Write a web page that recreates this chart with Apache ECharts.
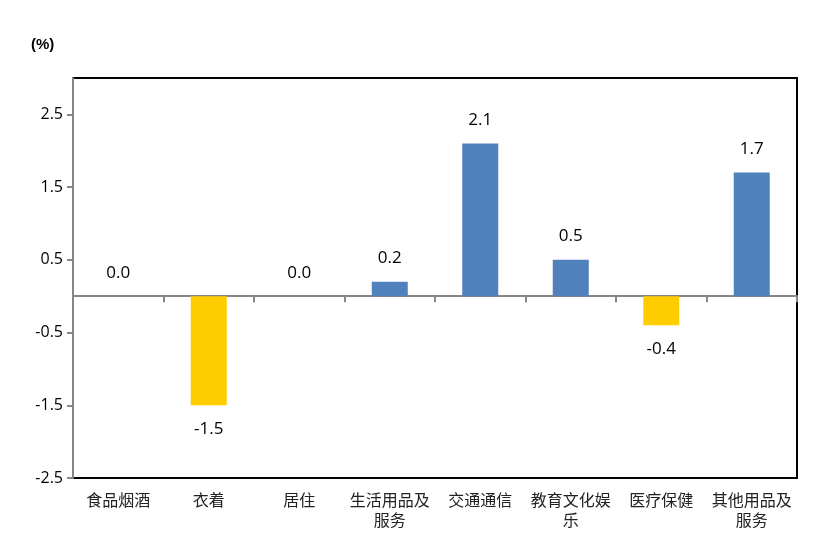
<!DOCTYPE html>
<html>
<head>
<meta charset="utf-8">
<script src="https://cdn.jsdelivr.net/npm/echarts@6/dist/echarts.min.js"></script>
<style>html,body{margin:0;padding:0;background:#fff}#c{width:831px;height:541px}</style>
</head>
<body>
<div id="c"></div>
<script>
const categories = ['食品烟酒','衣着','居住','生活用品及服务','交通通信','教育文化娱乐','医疗保健','其他用品及服务'];
const values = [0.0, -1.5, 0.0, 0.2, 2.1, 0.5, -0.4, 1.7];
const yTicks = [-2.5, -1.5, -0.5, 0.5, 1.5, 2.5];
const posColor = '#4F81BD';
const negColor = '#FFCC00';

const chart = echarts.init(document.getElementById('c'), null, {renderer: 'canvas'});
const wrap = s => s.length > 5 ? s.slice(0,5) + '\n' + s.slice(5) : s;

chart.setOption({
  animation: false,
  graphic: [{type:'text', left: 31, top: 37, style:{text:'(%)', font:'bold 15px "Liberation Sans", sans-serif', fill:'#000'}}],
  grid: {left: 73, right: 34, top: 78, bottom: 63, show: true, borderColor: '#000', borderWidth: 2, backgroundColor: 'transparent'},
  xAxis: [{
    type: 'category', data: categories, position: 'bottom',
    axisLine: {onZero: true, lineStyle: {color: '#868686', width: 2}},
    axisTick: {show: true, interval: 0, alignWithLabel: false, length: 6, inside: false, lineStyle: {color: '#868686', width: 2}},
    axisLabel: {show: false, interval: 0}, splitLine: {show: false}
  }, {
    type: 'category', data: categories, position: 'bottom',
    axisLine: {show: false, onZero: false}, axisTick: {show: false},
    axisLabel: {show: true, interval: 0, formatter: wrap, color: '#222', fontFamily: '"Noto Sans CJK SC", sans-serif', fontSize: 16, lineHeight: 20, margin: 12}
  }],
  yAxis: {
    type: 'value', min: -2.5, max: 3, interval: 0.5,
    axisLine: {show: true, onZero: false, lineStyle: {color: '#868686', width: 2}},
    axisTick: {show: true, length: 6, customValues: yTicks, lineStyle: {color: '#868686', width: 2}},
    axisLabel: {customValues: yTicks, formatter: v => v.toFixed(1), color: '#000', fontFamily: '"Open Sans", sans-serif', fontSize: 16, margin: 10},
    splitLine: {show: false}
  },
  series: [{
    type: 'bar', xAxisIndex: 0, barWidth: 36,
    data: values.map(v => ({
      value: v,
      itemStyle: {color: v < 0 ? negColor : posColor},
      label: {position: v < 0 ? 'bottom' : 'top'}
    })),
    label: {show: true, distance: 15, formatter: p => p.value.toFixed(1), color: '#000', fontFamily: '"Open Sans", sans-serif', fontSize: 17}
  }]
});
</script>
</body>
</html>
